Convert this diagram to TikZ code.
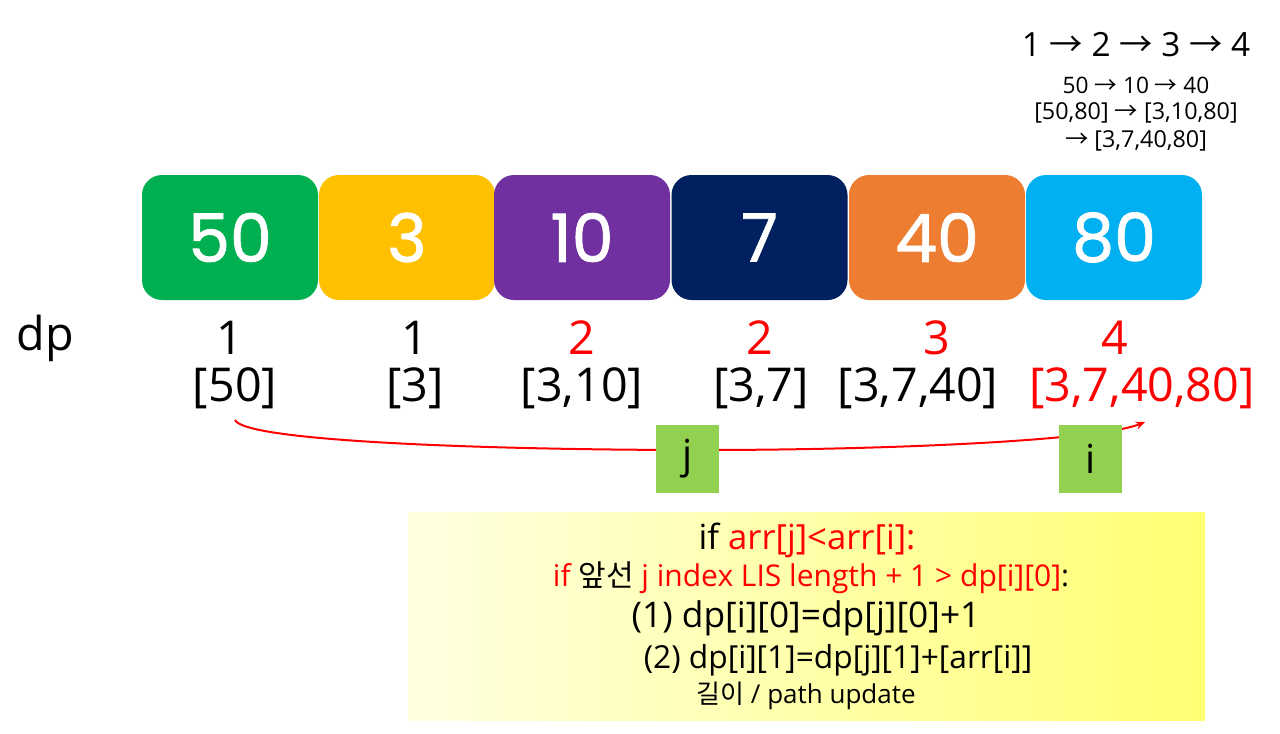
\documentclass[tikz,border=0pt]{standalone}
\usepackage{fontspec}
\usetikzlibrary{arrows.meta}
\setmainfont{Open Sans}
\newfontfamily\kr{Noto Sans CJK KR}
\newfontfamily\boxfont[FakeBold=1.2]{Poppins}
\definecolor{cgreen}{HTML}{00B050}
\definecolor{cyellow}{HTML}{FFC000}
\definecolor{cpurple}{HTML}{7030A0}
\definecolor{cnavy}{HTML}{002060}
\definecolor{corange}{HTML}{ED7D31}
\definecolor{ccyan}{HTML}{00B0F0}
\definecolor{lgreen}{HTML}{92D050}
\definecolor{cred}{HTML}{FF0000}
\newcommand{\fs}[1]{\fontsize{#1}{#1}\selectfont}
\newcommand{\ar}{{\kr →}}
\begin{document}
\begin{tikzpicture}[x=0.75pt,y=-0.75pt,
  numbox/.style={rounded corners=15pt, minimum width=132pt, minimum height=93.75pt, inner sep=0pt, text=white, font=\boxfont\fs{50pt}},
  dpval/.style={inner sep=0pt, font=\fs{35pt}},
  letterbox/.style={fill=lgreen, minimum width=47.25pt, minimum height=51pt, inner sep=0pt, font=\fs{30pt}},
  ytext/.style={inner sep=0pt, font=\fs{24.5pt}}
]
\useasboundingbox (0,0) rectangle (1280,733);
% boxes
\node[numbox, fill=cgreen] (b1) at (230,237.5) {50};
\node[numbox, fill=cyellow] (b2) at (407,237.5) {3};
\node[numbox, fill=cpurple] (b3) at (582,237.5) {10};
\node[numbox, fill=cnavy] (b4) at (759.5,237.5) {7};
\node[numbox, fill=corange] (b5) at (937,237.5) {40};
\node[numbox, fill=ccyan] (b6) at (1114,237.5) {80};
% top right
\node[inner sep=0pt, font=\fs{25pt}] (t1) at (1136,45) {1 \ar{} 2 \ar{} 3 \ar{} 4};
\node[inner sep=0pt, font=\fs{17pt}] (t2) at (1136,85) {50 \ar{} 10 \ar{} 40};
\node[inner sep=0pt, font=\fs{17.5pt}] (t3) at (1136,113) {[50,80] \ar{} [3,10,80]};
\node[inner sep=0pt, font=\fs{17.5pt}] (t4) at (1136,141) {\ar{} [3,7,40,80]};
% dp
\node[dpval] (dp) at (45,338) {dp};
\node[dpval] (d1) at (230,338) {1};
\node[dpval] (d2) at (415,338) {1};
\node[dpval, text=cred] (d3) at (582,338) {2};
\node[dpval, text=cred] (d4) at (760,338) {2};
\node[dpval, text=cred] (d5) at (937,338) {3};
\node[dpval, text=cred] (d6) at (1115,338) {4};
\node[dpval] (p1) at (235,388) {[50]};
\node[dpval] (p2) at (415,388) {[3]};
\node[dpval] (p3) at (582,388) {[3,10]};
\node[dpval] (p4) at (761,388) {[3,7]};
\node[dpval] (p5) at (918,388) {[3,7,40]};
\node[dpval, text=cred] (p6) at (1142,388) {[3,7,40,80]};
% arrow
\coordinate (s) at (235,420);
\coordinate (m) at (700,450);
\coordinate (e) at (1145,422);
\draw[cred, line width=1.5pt, -{Stealth[length=7pt,width=6pt]}] (s) .. controls (245,442) and (500,450) .. (m) .. controls (900,450) and (1100,440) .. (e);
% j i
\node[letterbox] (j) at (687.5,459) {j};
\node[letterbox] (i) at (1090.5,459) {i};
% yellow box
\shade[left color=yellow!12, right color=yellow!55] (408,512) rectangle (1205,720);
\node[ytext, font=\fs{26pt}] (y1) at (807,540) {if \textcolor{cred}{arr[j]<arr[i]:}};
\node[ytext, font=\fs{22.5pt}] (y2) at (811,578) {\textcolor{cred}{if} {\kr 앞선} \textcolor{cred}{j index LIS length + 1 > dp[i][0]}:};
\node[ytext, font=\fs{26.5pt}] (y3) at (806,618) {(1) dp[i][0]=dp[j][0]+1};
\node[ytext, font=\fs{23.8pt}] (y4) at (838,660) {(2) dp[i][1]=dp[j][1]+[arr[i]]};
\node[ytext, font=\fs{19.5pt}] (y5) at (806,696) {{\kr 길이} / path update};
\end{tikzpicture}
\end{document}
